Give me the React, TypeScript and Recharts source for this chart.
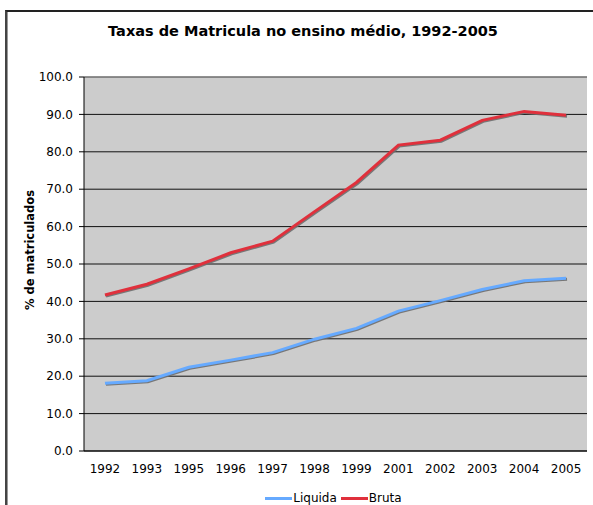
import React from 'react';
import { LineChart, Line, XAxis, YAxis, CartesianGrid, Legend, ReferenceLine } from 'recharts';

const years = ['1992', '1993', '1995', '1996', '1997', '1998', '1999', '2001', '2002', '2003', '2004', '2005'];
const liquida = [18.1, 18.8, 22.4, 24.3, 26.3, 29.9, 32.8, 37.4, 40.2, 43.2, 45.5, 46.2];
const bruta = [41.7, 44.6, 48.7, 53.0, 56.1, 64.0, 71.8, 81.8, 83.1, 88.4, 90.8, 89.8];
const seriesNames = ['Liquida', 'Bruta'];
const yTicks = [0, 10, 20, 30, 40, 50, 60, 70, 80, 90, 100];
const edgeTicks = [0, 1, 2, 3, 4, 5, 6, 7, 8, 9, 10, 11, 12];

const data = years.map((y, i) => ({ year: y, Liquida: liquida[i], Bruta: bruta[i] }));

const FONT = '"DejaVu Sans", Verdana, sans-serif';

const renderLegend = (props: any) => {
  const { payload } = props;
  const items = seriesNames.map((n) => payload.find((p: any) => p.value === n)).filter(Boolean);
  return (
    <div style={{ display: 'flex', justifyContent: 'center', alignItems: 'center', height: 24, paddingTop: 10, boxSizing: 'border-box', fontFamily: FONT, fontSize: 12, color: '#000' }}>
      {items.map((p: any) => (
        <div key={p.value} style={{ display: 'flex', alignItems: 'center', marginRight: 4 }}>
          <div style={{ width: 27, height: 3, background: p.color, marginRight: 1 }} />
          <span>{p.value}</span>
        </div>
      ))}
    </div>
  );
};

const YLabel = (props: any) => {
  const { viewBox } = props;
  const cx = 30;
  const cy = viewBox.y + viewBox.height / 2 - 14;
  return (
    <text x={cx} y={cy} transform={`rotate(-90, ${cx}, ${cy})`} textAnchor="middle" dominantBaseline="central" fontFamily={FONT} fontSize={11.5} fontWeight="bold" fill="#000">
      % de matriculados
    </text>
  );
};

export default function App() {
  return (
    <div style={{ position: 'absolute', left: 0, top: 0, width: 593, height: 505, overflow: 'hidden', background: '#fff' }}>
      <style>{`.recharts-line-curve { filter: drop-shadow(1px 1.5px 0px rgba(110,110,110,0.9)); }`}</style>
      <div style={{ position: 'absolute', left: 5, top: 10, width: 700, height: 700, borderTop: '2px solid #222', borderLeft: '2px solid #444', boxShadow: 'inset 1px 0 0 #999' }} />
      <div style={{ position: 'absolute', left: 0, top: 23, width: 606, textAlign: 'center', fontFamily: FONT, fontSize: 14.5, fontWeight: 'bold', color: '#000' }}>
        Taxas de Matricula no ensino médio, 1992-2005
      </div>
      <div style={{ position: 'absolute', left: 0, top: 0 }}>
        <LineChart width={593} height={505} data={data} margin={{ top: 77, right: 6, left: 0, bottom: 0 }}>
          <CartesianGrid xAxisId={0} fill="#cccccc" vertical={false} stroke="#111" strokeOpacity={1} />
          <XAxis xAxisId={0} type="number" domain={[0, 12]} ticks={edgeTicks} allowDataOverflow tick={false} tickSize={4} height={4} axisLine={{ stroke: '#000' }} tickLine={{ stroke: '#333' }} />
          <XAxis xAxisId={1} dataKey="year" scale="band" type="category" axisLine={false} tickLine={false} tickSize={0} tickMargin={9} height={26} interval={0} tick={{ fontFamily: FONT, fontSize: 12, fill: '#000' }} />
          <YAxis domain={[0, 100]} ticks={yTicks} width={84} interval={0} tickFormatter={(v: number) => v.toFixed(1)} tickSize={5} tickMargin={6} axisLine={{ stroke: '#000' }} tickLine={{ stroke: '#000' }} tick={{ fontFamily: FONT, fontSize: 12, fill: '#000' }} label={<YLabel />} />
          <ReferenceLine xAxisId={0} x={12} stroke="#999" strokeWidth={2} />
          <ReferenceLine xAxisId={0} y={100} stroke="#999" strokeWidth={1} />
          <Legend verticalAlign="bottom" content={renderLegend} wrapperStyle={{ left: 84, width: 503 }} />
          <Line xAxisId={1} dataKey="Liquida" stroke="#66aaff" strokeWidth={3} dot={false} isAnimationActive={false} />
          <Line xAxisId={1} dataKey="Bruta" stroke="#e0303c" strokeWidth={3} dot={false} isAnimationActive={false} />
        </LineChart>
      </div>
    </div>
  );
}
